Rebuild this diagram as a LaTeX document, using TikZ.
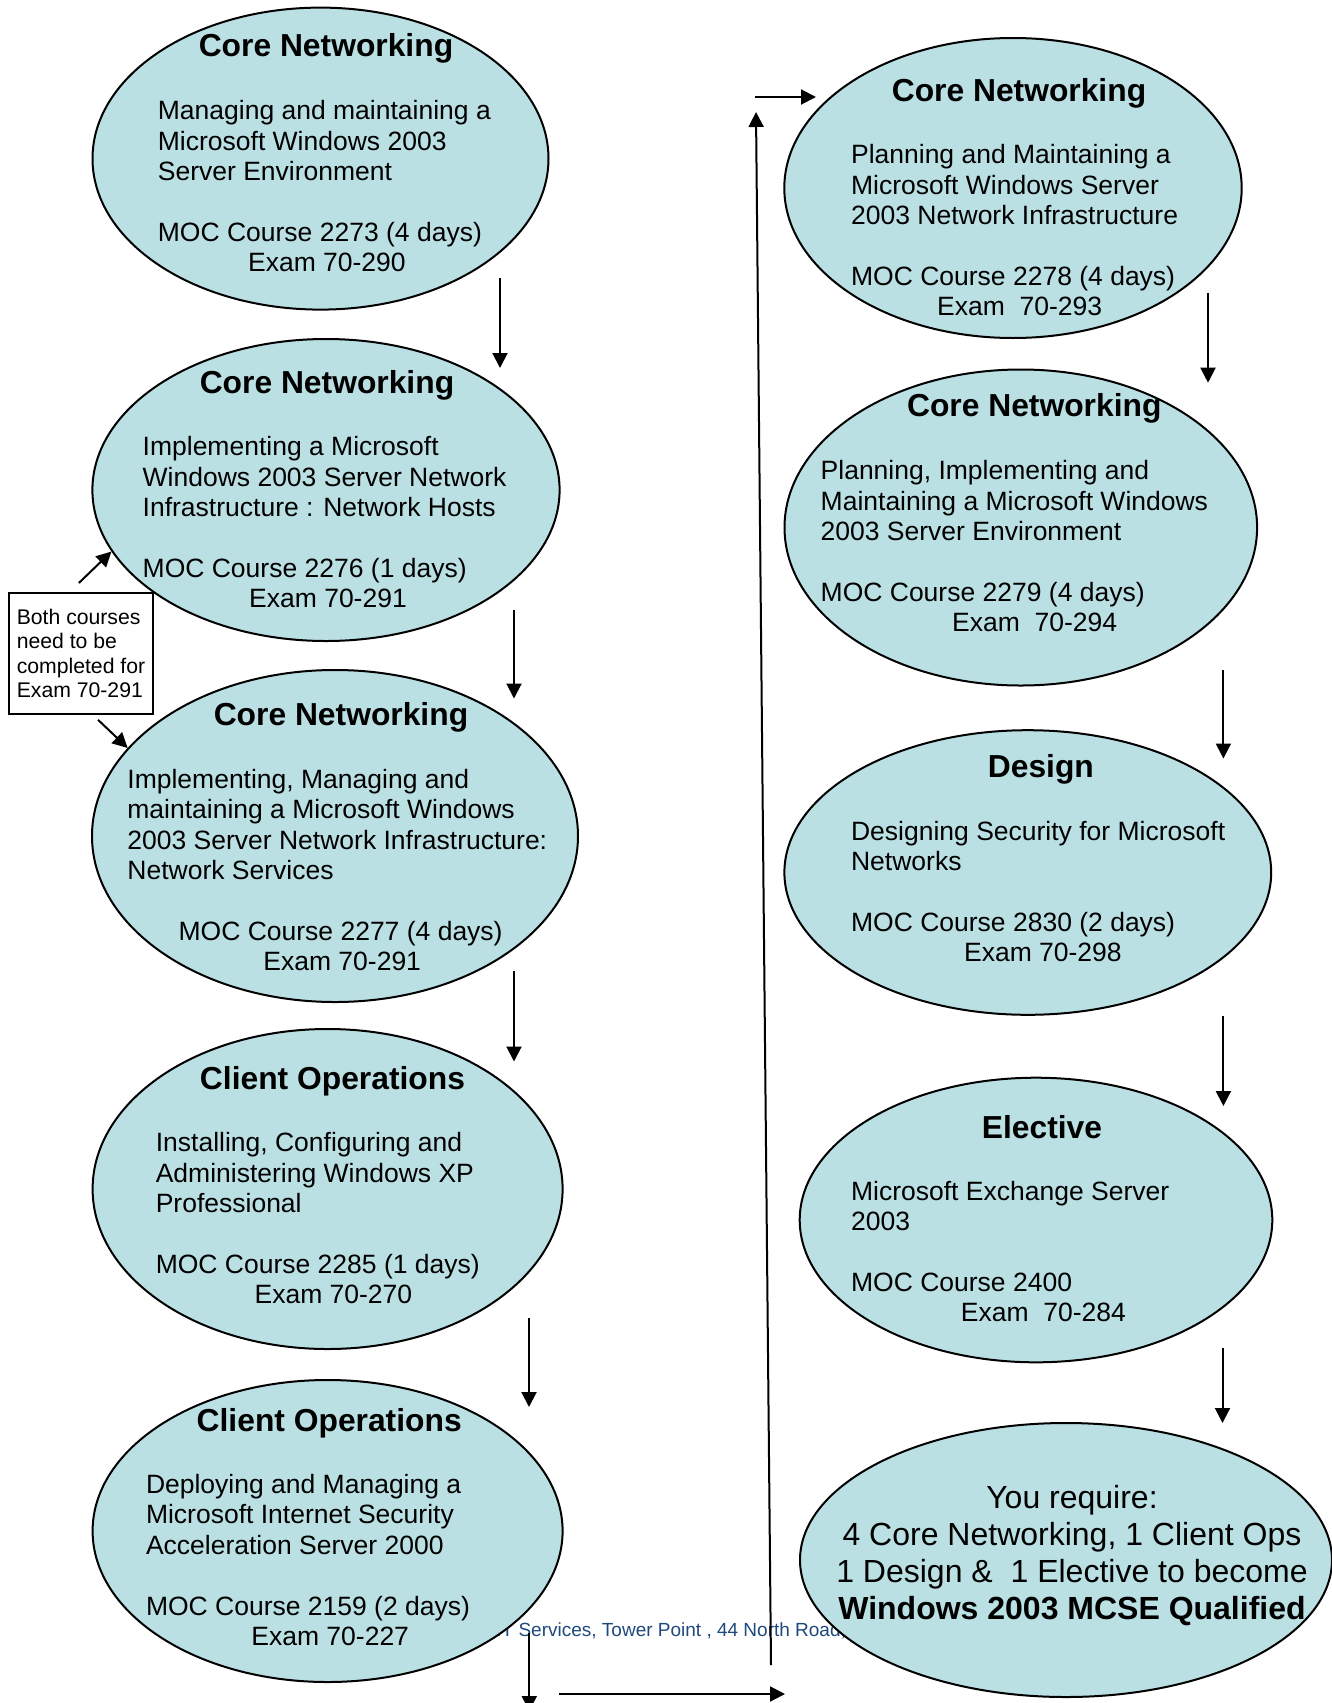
\documentclass[tikz,border=0pt]{standalone}
\usepackage{fontspec}
\setmainfont{Liberation Sans}
\usetikzlibrary{shapes.geometric,arrows.meta}
\definecolor{coursefill}{RGB}{187,224,227}
\definecolor{footblue}{RGB}{31,73,125}
\newcommand{\crshead}{\fontsize{15.9}{18.3}\bfseries\selectfont}
\newcommand{\crsbody}{\fontsize{13.25}{15.2}\selectfont}
\newcommand{\crsnote}{\fontsize{10.6}{12.3}\selectfont}
\newcommand{\crsgoal}{\fontsize{16}{18.45}\selectfont}
\newcommand{\crsfoot}{\fontsize{9.5}{11}\selectfont}
\begin{document}
\begin{tikzpicture}[x=0.5pt,y=-0.5pt]
\tikzset{course/.style = {shape=ellipse,draw,fill=coursefill,line width=1pt,inner sep=0pt}}
\tikzset{head/.style = {inner sep=0pt,font=\crshead}}
\tikzset{body/.style = {anchor=west,align=left,inner sep=0pt,font=\crsbody}}
\tikzset{arr/.style = {-{Triangle[length=7.5pt,width=7.5pt]},line width=1pt}}
\useasboundingbox (0,0) rectangle (1332,1703);
% footer behind the ellipses
\node[anchor=west,inner sep=0pt,text=footblue,font=\crsfoot] (addr) at (496,1631) {IT Services, Tower Point , 44 North Road,};
% courses on the left
\node[course,minimum width=228pt,minimum height=151pt] (l1) at (320.5,158.6) {};
\node[course,minimum width=233.6pt,minimum height=151pt] (l2) at (326,490) {};
\node[course,minimum width=243pt,minimum height=166pt] (l3) at (335,836) {};
\node[course,minimum width=235pt,minimum height=160pt] (l4) at (327.6,1189) {};
\node[course,minimum width=235pt,minimum height=151pt] (l5) at (327.6,1531) {};
% courses on the right
\node[course,minimum width=228.7pt,minimum height=150pt] (r1) at (1013,188) {};
\node[course,minimum width=236.3pt,minimum height=158pt] (r2) at (1020.8,527.5) {};
\node[course,minimum width=243.4pt,minimum height=142.3pt] (r3) at (1027.8,872.5) {};
\node[course,minimum width=236.3pt,minimum height=142.3pt] (r4) at (1036,1220) {};
\node[course,minimum width=266pt,minimum height=137pt] (r5) at (1066,1560) {};
% texts on the left
\node[head] (l1h) at (326,48) {Core Networking};
\node[body] (l1t) at (157.5,186.4) {Managing and maintaining a\\Microsoft Windows 2003\\Server Environment\\[15.2pt]MOC Course 2273 (4 days)\\\hspace*{45.1pt}Exam 70-290};
\node[head] (l2h) at (327,385) {Core Networking};
\node[body] (l2t) at (142.3,522.5) {Implementing a Microsoft\\Windows 2003 Server Network\\Infrastructure : Network Hosts\\[15.2pt]MOC Course 2276 (1 days)\\\hspace*{53.25pt}Exam 70-291};
\node[head] (l3h) at (341,717.3) {Core Networking};
\node[body] (l3t) at (127,870.3) {Implementing, Managing and\\maintaining a Microsoft Windows\\2003 Server Network Infrastructure:\\Network Services\\[15.2pt]\hspace*{25.6pt}MOC Course 2277 (4 days)\\\hspace*{68pt}Exam 70-291};
\node[head] (l4h) at (332.5,1081.3) {Client Operations};
\node[body] (l4t) at (155.4,1218.3) {Installing, Configuring and\\Administering Windows XP\\Professional\\[15.2pt]MOC Course 2285 (1 days)\\\hspace*{49.4pt}Exam 70-270};
\node[head] (l5h) at (329.2,1423.5) {Client Operations};
\node[body] (l5t) at (145.6,1560) {Deploying and Managing a\\Microsoft Internet Security\\Acceleration Server 2000\\[15.2pt]MOC Course 2159 (2 days)\\\hspace*{52.7pt}Exam 70-227};
% texts on the right
\node[head] (r1h) at (1019,93.7) {Core Networking};
\node[body] (r1t) at (850.7,230.4) {Planning and Maintaining a\\Microsoft Windows Server\\2003 Network Infrastructure\\[15.2pt]MOC Course 2278 (4 days)\\\hspace*{43pt}Exam~ 70-293};
\node[head] (r2h) at (1034.3,408.8) {Core Networking};
\node[body] (r2t) at (820.3,546.5) {Planning, Implementing and\\Maintaining a Microsoft Windows\\2003 Server Environment\\[15.2pt]MOC Course 2279 (4 days)\\\hspace*{65.75pt}Exam~ 70-294};
\node[head] (r3h) at (1040.9,769.5) {Design};
\node[body] (r3t) at (850.7,891.5) {Designing Security for Microsoft\\Networks\\[15.2pt]MOC Course 2830 (2 days)\\\hspace*{56.5pt}Exam 70-298};
\node[head] (r4h) at (1042,1127.6) {Elective};
\node[body] (r4t) at (850.7,1251.7) {Microsoft Exchange Server\\2003\\[15.2pt]MOC Course 2400\\\hspace*{54.9pt}Exam~ 70-284};
\node[align=center,inner sep=0pt,font=\crsgoal] (r5t) at (1072,1555.8) {You require:\\4 Core Networking, 1 Client Ops\\1 Design \&~ 1 Elective to become\\\textbf{Windows 2003 MCSE Qualified}};
% note between the two first courses
\node[draw,line width=1pt,minimum width=72.25pt,minimum height=60.5pt,inner sep=0pt,align=left,font=\crsnote] (note) at (81,653.5) {Both courses\\need to be\\completed for\\Exam 70-291};
\draw[arr,shorten <=6.5pt] ([xshift=-5.75pt]note.north) -- (l2.196);
\draw[arr,shorten <=3.5pt] ([xshift=6pt]note.south) -- (l3.157);
% arrows down the left column
\coordinate (a1) at (500,277.5);
\coordinate (a2) at (514,609.5);
\coordinate (a3) at (514,971);
\coordinate (a4) at (529,1318);
\coordinate (a5) at (529.3,1633);
\draw[arr] (a1) -- ++(0,90.5);
\draw[arr] (a2) -- ++(0,89);
\draw[arr] (a3) -- ++(0,90.5);
\draw[arr] (a4) -- ++(0,89);
\draw[arr] (a5) -- ++(0,78);
% back up to the right column
\coordinate (b1) at (559,1694);
\coordinate (b2) at (771,1665);
\coordinate (b3) at (756,112);
\coordinate (b4) at (755,97);
\draw[arr] (b1) -- ++(226,0);
\draw[arr] (b2) -- (b3);
\draw[arr] (b4) -- ++(61,0);
% arrows down the right column
\coordinate (c1) at (1208,292.7);
\coordinate (c2) at (1223.4,670);
\coordinate (c3) at (1223.4,1016);
\coordinate (c4) at (1222.5,1348);
\draw[arr] (c1) -- ++(0,90);
\draw[arr] (c2) -- ++(0,88.5);
\draw[arr] (c3) -- ++(0,90);
\draw[arr] (c4) -- ++(0,75);
\end{tikzpicture}
\end{document}
